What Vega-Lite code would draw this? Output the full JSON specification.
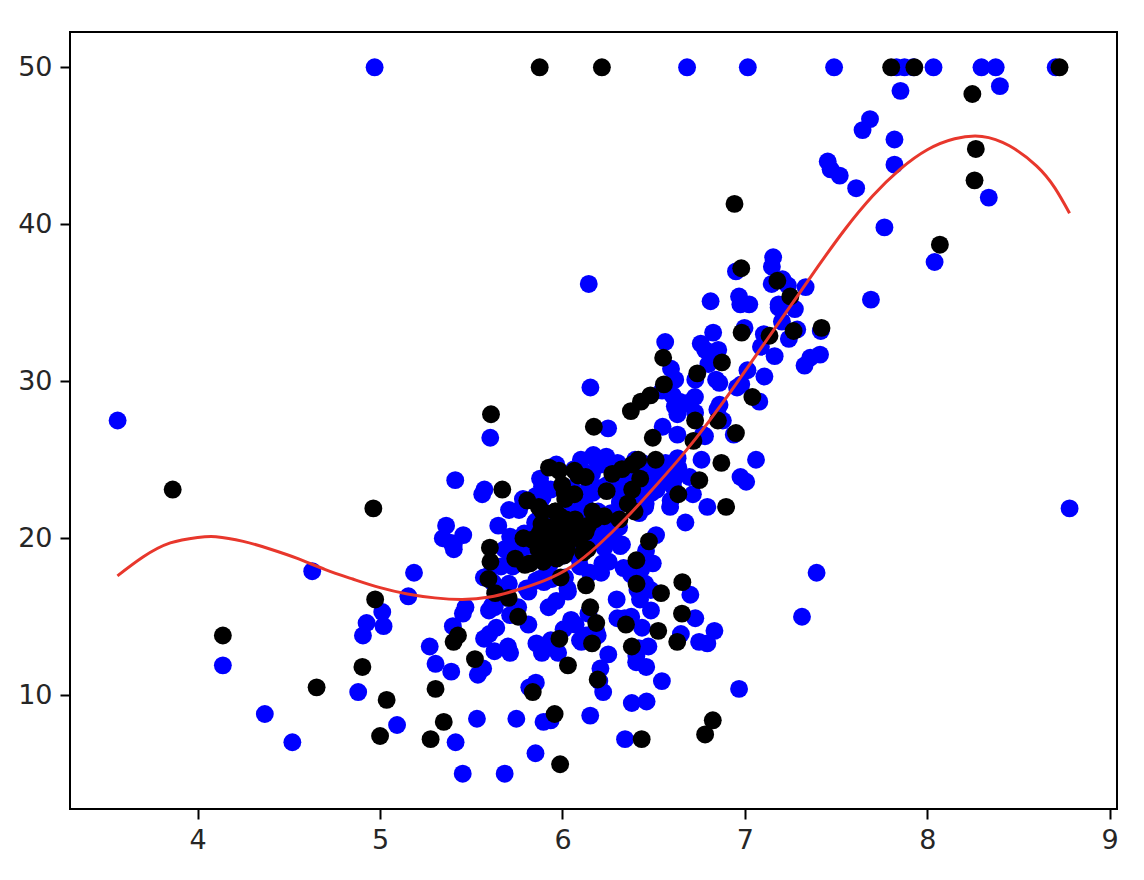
{
  "$schema": "https://vega.github.io/schema/vega-lite/v6.json",
  "width": 1047,
  "height": 777,
  "autosize": "none",
  "padding": {"left": 70, "top": 32, "right": 27, "bottom": 71},
  "background": "white",
  "config": {
    "view": {"stroke": "#000", "strokeWidth": 2},
    "axis": {"domain": false, "grid": false, "ticks": true, "tickColor": "#000", "tickWidth": 2, "tickSize": 10, "labelFont": "DejaVu Sans", "labelFontSize": 27, "labelColor": "#262626", "labelPadding": 8, "title": null}
  },
  "datasets": {
    "train": [
{"rm":6.575,"medv":24.0},{"rm":6.421,"medv":21.6},{"rm":7.185,"medv":34.7},{"rm":6.998,"medv":33.4},{"rm":7.147,"medv":36.2},{"rm":6.004,"medv":18.9},{"rm":6.377,"medv":15.0},{"rm":6.096,"medv":18.2},{"rm":5.935,"medv":23.1},{"rm":5.456,"medv":20.2},{"rm":5.727,"medv":18.2},{"rm":5.570,"medv":13.6},{"rm":5.965,"medv":19.6},{"rm":6.142,"medv":15.2},{"rm":5.813,"medv":14.5},{"rm":5.924,"medv":15.6},{"rm":5.599,"medv":13.9},{"rm":5.813,"medv":16.6},{"rm":6.047,"medv":14.8},{"rm":6.495,"medv":18.4},{"rm":6.674,"medv":21.0},{"rm":5.713,"medv":12.7},{"rm":6.072,"medv":14.5},{"rm":5.950,"medv":13.2},{"rm":5.701,"medv":13.1},{"rm":6.096,"medv":13.5},{"rm":5.933,"medv":18.9},{"rm":5.841,"medv":20.0},{"rm":5.850,"medv":21.0},{"rm":5.966,"medv":24.7},{"rm":6.595,"medv":30.8},{"rm":7.024,"medv":34.9},{"rm":6.770,"medv":26.6},{"rm":6.169,"medv":25.3},{"rm":6.211,"medv":24.7},{"rm":5.682,"medv":19.3},{"rm":6.030,"medv":16.6},{"rm":5.399,"medv":14.4},{"rm":6.115,"medv":20.5},{"rm":6.816,"medv":31.6},{"rm":6.145,"medv":23.3},{"rm":5.966,"medv":16.0},{"rm":6.456,"medv":22.2},{"rm":6.762,"medv":25.0},{"rm":7.104,"medv":33.0},{"rm":6.290,"medv":23.5},{"rm":5.787,"medv":19.4},{"rm":5.878,"medv":22.0},{"rm":6.417,"medv":24.2},{"rm":6.245,"medv":23.4},{"rm":6.286,"medv":21.4},{"rm":6.279,"medv":20.0},{"rm":6.232,"medv":21.2},{"rm":6.727,"medv":28.0},{"rm":6.619,"medv":23.9},{"rm":6.302,"medv":24.8},{"rm":6.167,"medv":22.9},{"rm":6.389,"medv":23.9},{"rm":6.630,"medv":26.6},{"rm":6.121,"medv":22.2},{"rm":7.007,"medv":23.6},{"rm":7.079,"medv":28.7},{"rm":6.417,"medv":22.6},{"rm":6.405,"medv":22.0},{"rm":6.442,"medv":22.9},{"rm":6.211,"medv":25.0},{"rm":6.249,"medv":20.6},{"rm":6.625,"medv":28.4},{"rm":6.163,"medv":21.4},{"rm":7.820,"medv":43.8},{"rm":7.416,"medv":33.2},{"rm":6.781,"medv":26.5},{"rm":6.167,"medv":20.1},{"rm":5.851,"medv":19.5},{"rm":5.836,"medv":19.5},{"rm":6.229,"medv":19.4},{"rm":6.195,"medv":21.7},{"rm":6.715,"medv":22.8},{"rm":5.913,"medv":18.8},{"rm":6.092,"medv":18.7},{"rm":6.254,"medv":18.5},{"rm":5.928,"medv":18.3},{"rm":5.872,"medv":20.4},{"rm":5.731,"medv":19.3},{"rm":5.856,"medv":17.3},{"rm":5.879,"medv":18.8},{"rm":5.613,"medv":15.7},{"rm":5.693,"medv":16.2},{"rm":6.431,"medv":18.0},{"rm":5.637,"medv":14.3},{"rm":6.458,"medv":19.2},{"rm":6.326,"medv":19.6},{"rm":6.372,"medv":23.0},{"rm":5.757,"medv":15.6},{"rm":6.335,"medv":18.1},{"rm":5.942,"medv":17.4},{"rm":6.454,"medv":17.1},{"rm":5.857,"medv":13.3},{"rm":6.151,"medv":17.8},{"rm":6.174,"medv":14.0},{"rm":5.019,"medv":14.4},{"rm":5.468,"medv":15.6},{"rm":6.130,"medv":13.8},{"rm":5.628,"medv":15.6},{"rm":4.926,"medv":14.6},{"rm":5.186,"medv":17.8},{"rm":5.597,"medv":15.4},{"rm":6.122,"medv":21.5},{"rm":5.404,"medv":19.6},{"rm":5.012,"medv":15.3},{"rm":5.709,"medv":19.4},{"rm":5.272,"medv":13.1},{"rm":6.510,"medv":23.3},{"rm":6.250,"medv":27.0},{"rm":7.489,"medv":50.0},{"rm":8.375,"medv":50.0},{"rm":5.854,"medv":22.7},{"rm":6.101,"medv":25.0},{"rm":5.877,"medv":23.8},{"rm":6.319,"medv":23.8},{"rm":6.402,"medv":22.3},{"rm":5.875,"medv":17.4},{"rm":5.880,"medv":19.1},{"rm":5.572,"medv":23.1},{"rm":6.416,"medv":23.6},{"rm":5.859,"medv":22.6},{"rm":6.546,"medv":29.4},{"rm":6.020,"medv":23.2},{"rm":6.315,"medv":24.6},{"rm":6.860,"medv":29.9},{"rm":7.765,"medv":39.8},{"rm":6.144,"medv":36.2},{"rm":7.155,"medv":37.9},{"rm":6.563,"medv":32.5},{"rm":5.604,"medv":26.4},{"rm":6.153,"medv":29.6},{"rm":7.831,"medv":50.0},{"rm":6.782,"medv":32.0},{"rm":7.185,"medv":34.9},{"rm":6.951,"medv":37.0},{"rm":6.800,"medv":31.1},{"rm":6.604,"medv":29.1},{"rm":7.875,"medv":50.0},{"rm":7.287,"medv":33.3},{"rm":7.107,"medv":30.3},{"rm":7.274,"medv":34.6},{"rm":6.975,"medv":34.9},{"rm":6.162,"medv":24.1},{"rm":7.610,"medv":42.3},{"rm":7.853,"medv":48.5},{"rm":8.034,"medv":50.0},{"rm":5.891,"medv":22.6},{"rm":5.783,"medv":22.5},{"rm":6.064,"medv":24.4},{"rm":5.344,"medv":20.0},{"rm":5.404,"medv":19.3},{"rm":5.412,"medv":23.7},{"rm":6.182,"medv":25.0},{"rm":5.888,"medv":23.3},{"rm":6.642,"medv":28.7},{"rm":5.951,"medv":21.5},{"rm":6.373,"medv":23.0},{"rm":6.879,"medv":27.5},{"rm":6.618,"medv":30.1},{"rm":8.040,"medv":37.6},{"rm":7.163,"medv":31.6},{"rm":7.686,"medv":46.7},{"rm":7.412,"medv":31.7},{"rm":8.337,"medv":41.7},{"rm":6.726,"medv":29.0},{"rm":6.631,"medv":25.1},{"rm":7.358,"medv":31.5},{"rm":6.481,"medv":23.7},{"rm":6.606,"medv":23.3},{"rm":6.393,"medv":23.7},{"rm":5.593,"medv":17.6},{"rm":6.108,"medv":24.3},{"rm":6.226,"medv":20.5},{"rm":6.433,"medv":24.5},{"rm":6.487,"medv":24.4},{"rm":6.438,"medv":24.8},{"rm":6.957,"medv":29.6},{"rm":6.108,"medv":21.9},{"rm":5.876,"medv":20.9},{"rm":7.454,"medv":44.0},{"rm":8.704,"medv":50.0},{"rm":7.333,"medv":36.0},{"rm":6.842,"medv":30.1},{"rm":7.203,"medv":33.8},{"rm":7.520,"medv":43.1},{"rm":8.398,"medv":48.8},{"rm":7.327,"medv":31.0},{"rm":7.206,"medv":36.5},{"rm":5.560,"medv":22.8},{"rm":7.014,"medv":30.7},{"rm":8.297,"medv":50.0},{"rm":7.470,"medv":43.5},{"rm":5.856,"medv":21.1},{"rm":6.240,"medv":25.2},{"rm":6.538,"medv":24.4},{"rm":7.691,"medv":35.2},{"rm":6.758,"medv":32.4},{"rm":6.854,"medv":32.0},{"rm":6.826,"medv":33.1},{"rm":6.812,"medv":35.1},{"rm":7.820,"medv":45.4},{"rm":6.968,"medv":35.4},{"rm":7.645,"medv":46.0},{"rm":7.923,"medv":50.0},{"rm":7.088,"medv":32.2},{"rm":6.453,"medv":22.0},{"rm":6.230,"medv":20.1},{"rm":6.209,"medv":23.2},{"rm":6.315,"medv":22.3},{"rm":6.565,"medv":24.8},{"rm":6.861,"medv":28.5},{"rm":7.148,"medv":37.3},{"rm":6.630,"medv":27.9},{"rm":6.009,"medv":21.7},{"rm":6.678,"medv":28.6},{"rm":6.549,"medv":27.1},{"rm":5.790,"medv":20.3},{"rm":6.345,"medv":22.5},{"rm":6.590,"medv":22.0},{"rm":7.236,"medv":36.1},{"rm":6.616,"medv":28.4},{"rm":6.849,"medv":28.2},{"rm":6.122,"medv":22.1},{"rm":6.266,"medv":21.6},{"rm":6.567,"medv":23.8},{"rm":5.914,"medv":17.8},{"rm":5.782,"medv":19.8},{"rm":6.113,"medv":21.0},{"rm":6.376,"medv":23.1},{"rm":5.708,"medv":18.5},{"rm":6.431,"medv":24.6},{"rm":6.312,"medv":23.0},{"rm":6.083,"medv":22.2},{"rm":6.333,"medv":22.6},{"rm":6.144,"medv":19.8},{"rm":5.706,"medv":17.1},{"rm":6.031,"medv":19.4},{"rm":6.316,"medv":22.2},{"rm":6.310,"medv":20.7},{"rm":5.869,"medv":19.5},{"rm":5.985,"medv":19.0},{"rm":7.241,"medv":32.7},{"rm":6.696,"medv":23.9},{"rm":6.014,"medv":17.5},{"rm":5.898,"medv":17.2},{"rm":6.516,"medv":23.1},{"rm":6.635,"medv":24.5},{"rm":6.939,"medv":26.6},{"rm":6.490,"medv":22.9},{"rm":6.579,"medv":24.1},{"rm":5.884,"medv":18.6},{"rm":6.728,"medv":30.1},{"rm":5.663,"medv":18.2},{"rm":6.212,"medv":17.8},{"rm":6.127,"medv":22.7},{"rm":6.112,"medv":22.6},{"rm":6.398,"medv":25.0},{"rm":6.251,"medv":19.9},{"rm":5.362,"medv":20.8},{"rm":5.803,"medv":16.8},{"rm":8.780,"medv":21.9},{"rm":3.561,"medv":27.5},{"rm":4.970,"medv":50.0},{"rm":6.683,"medv":50.0},{"rm":7.016,"medv":50.0},{"rm":4.906,"medv":13.8},{"rm":7.313,"medv":15.0},{"rm":6.649,"medv":13.9},{"rm":6.794,"medv":13.3},{"rm":6.223,"medv":10.2},{"rm":6.968,"medv":10.4},{"rm":6.545,"medv":10.9},{"rm":5.536,"medv":11.3},{"rm":4.368,"medv":8.8},{"rm":4.880,"medv":10.2},{"rm":5.390,"medv":11.5},{"rm":5.713,"medv":15.1},{"rm":6.051,"medv":23.2},{"rm":6.193,"medv":13.8},{"rm":5.887,"medv":12.7},{"rm":6.471,"medv":13.1},{"rm":6.405,"medv":12.5},{"rm":5.747,"medv":8.5},{"rm":5.453,"medv":5.0},{"rm":5.852,"medv":6.3},{"rm":6.343,"medv":7.2},{"rm":6.404,"medv":12.1},{"rm":5.531,"medv":8.5},{"rm":5.683,"medv":5.0},{"rm":4.138,"medv":11.9},{"rm":5.617,"medv":17.2},{"rm":4.628,"medv":17.9},{"rm":5.155,"medv":16.3},{"rm":4.519,"medv":7.0},{"rm":6.411,"medv":16.7},{"rm":6.006,"medv":14.2},{"rm":5.648,"medv":20.8},{"rm":6.103,"medv":13.4},{"rm":5.565,"medv":11.7},{"rm":5.896,"medv":8.3},{"rm":6.202,"medv":10.9},{"rm":6.380,"medv":9.5},{"rm":6.833,"medv":14.1},{"rm":6.425,"medv":16.1},{"rm":6.436,"medv":14.3},{"rm":6.208,"medv":11.7},{"rm":6.461,"medv":9.6},{"rm":6.152,"medv":8.7},{"rm":5.935,"medv":8.4},{"rm":5.627,"medv":12.8},{"rm":5.818,"medv":10.5},{"rm":6.219,"medv":18.4},{"rm":6.485,"medv":15.4},{"rm":5.854,"medv":10.8},{"rm":6.459,"medv":11.8},{"rm":6.341,"medv":14.9},{"rm":6.251,"medv":12.6},{"rm":6.185,"medv":14.1},{"rm":6.417,"medv":13.0},{"rm":6.749,"medv":13.4},{"rm":6.297,"medv":16.1},{"rm":7.393,"medv":17.8},{"rm":6.728,"medv":14.9},{"rm":5.976,"medv":12.7},{"rm":5.936,"medv":13.5},{"rm":6.301,"medv":14.9},{"rm":6.701,"medv":16.4},{"rm":6.376,"medv":17.7},{"rm":6.317,"medv":19.5},{"rm":6.513,"medv":20.2},{"rm":6.209,"medv":21.4},{"rm":5.759,"medv":19.9},{"rm":5.952,"medv":19.0},{"rm":5.926,"medv":19.1},{"rm":5.713,"medv":20.1},{"rm":6.167,"medv":19.9},{"rm":6.229,"medv":19.6},{"rm":6.437,"medv":23.2},{"rm":6.980,"medv":29.8},{"rm":6.484,"medv":16.7},{"rm":5.304,"medv":12.0},{"rm":7.061,"medv":25.0},{"rm":5.762,"medv":21.8},{"rm":5.871,"medv":20.6},{"rm":5.454,"medv":15.2},{"rm":5.414,"medv":7.0},{"rm":5.093,"medv":8.1},{"rm":5.983,"medv":20.1},{"rm":5.707,"medv":21.8},{"rm":5.390,"medv":19.7},{"rm":5.569,"medv":17.5},{"rm":6.027,"medv":16.8},{"rm":6.593,"medv":22.4},{"rm":6.120,"medv":20.6},{"rm":6.976,"medv":23.9},{"rm":6.794,"medv":22.0}
    ],
    "test": [
{"rm":6.430,"medv":28.7},{"rm":6.172,"medv":27.1},{"rm":5.631,"medv":16.5},{"rm":5.889,"medv":21.7},{"rm":5.949,"medv":20.4},{"rm":5.834,"medv":19.9},{"rm":5.990,"medv":17.5},{"rm":5.786,"medv":20.0},{"rm":5.602,"medv":19.4},{"rm":6.511,"medv":25.0},{"rm":5.998,"medv":23.4},{"rm":5.888,"medv":18.9},{"rm":7.249,"medv":35.4},{"rm":6.383,"medv":24.7},{"rm":5.741,"medv":18.7},{"rm":5.594,"medv":17.4},{"rm":5.885,"medv":20.9},{"rm":6.273,"medv":24.1},{"rm":5.874,"medv":20.3},{"rm":8.069,"medv":38.7},{"rm":6.727,"medv":27.5},{"rm":6.405,"medv":18.6},{"rm":6.474,"medv":19.8},{"rm":6.021,"medv":19.2},{"rm":5.870,"medv":22.0},{"rm":5.986,"medv":21.4},{"rm":5.822,"medv":18.4},{"rm":5.403,"medv":13.4},{"rm":4.903,"medv":11.8},{"rm":6.129,"medv":17.0},{"rm":6.152,"medv":15.6},{"rm":6.943,"medv":41.3},{"rm":6.066,"medv":24.3},{"rm":7.802,"medv":50.0},{"rm":7.929,"medv":50.0},{"rm":6.980,"medv":37.2},{"rm":6.556,"medv":29.8},{"rm":6.739,"medv":30.5},{"rm":7.178,"medv":36.4},{"rm":7.135,"medv":32.9},{"rm":6.326,"medv":24.4},{"rm":5.960,"medv":21.7},{"rm":5.807,"medv":22.4},{"rm":6.375,"medv":28.1},{"rm":6.951,"medv":26.7},{"rm":8.266,"medv":44.8},{"rm":8.725,"medv":50.0},{"rm":6.552,"medv":31.5},{"rm":5.981,"medv":24.3},{"rm":8.247,"medv":48.3},{"rm":6.086,"medv":24.0},{"rm":6.897,"medv":22.0},{"rm":6.358,"medv":22.2},{"rm":5.605,"medv":18.5},{"rm":6.718,"medv":26.2},{"rm":8.259,"medv":42.8},{"rm":5.920,"medv":20.7},{"rm":7.267,"medv":33.2},{"rm":6.482,"medv":29.1},{"rm":6.127,"medv":23.9},{"rm":7.041,"medv":29.0},{"rm":6.871,"medv":24.8},{"rm":6.495,"medv":26.4},{"rm":6.982,"medv":33.1},{"rm":7.420,"medv":33.4},{"rm":6.635,"medv":22.8},{"rm":4.973,"medv":16.1},{"rm":5.705,"medv":16.2},{"rm":6.382,"medv":23.1},{"rm":6.426,"medv":23.8},{"rm":6.415,"medv":25.0},{"rm":5.868,"medv":19.3},{"rm":5.895,"medv":18.5},{"rm":5.968,"medv":18.7},{"rm":6.540,"medv":16.5},{"rm":6.874,"medv":31.2},{"rm":5.936,"medv":20.6},{"rm":6.395,"medv":21.7},{"rm":4.963,"medv":21.9},{"rm":3.863,"medv":23.1},{"rm":6.216,"medv":50.0},{"rm":5.875,"medv":50.0},{"rm":4.138,"medv":13.8},{"rm":6.380,"medv":13.1},{"rm":5.520,"medv":12.3},{"rm":5.277,"medv":7.2},{"rm":4.652,"medv":10.5},{"rm":5.000,"medv":7.4},{"rm":5.036,"medv":9.7},{"rm":5.987,"medv":5.6},{"rm":5.349,"medv":8.3},{"rm":5.608,"medv":27.9},{"rm":6.852,"medv":27.5},{"rm":5.757,"medv":15.0},{"rm":6.657,"medv":17.2},{"rm":6.434,"medv":7.2},{"rm":6.782,"medv":7.5},{"rm":5.304,"medv":10.4},{"rm":5.957,"medv":8.8},{"rm":6.824,"medv":8.4},{"rm":5.837,"medv":10.2},{"rm":6.193,"medv":11.0},{"rm":6.348,"medv":14.5},{"rm":6.629,"medv":13.4},{"rm":6.406,"medv":17.1},{"rm":6.655,"medv":15.2},{"rm":6.525,"medv":14.1},{"rm":6.003,"medv":19.1},{"rm":5.427,"medv":13.8},{"rm":6.162,"medv":13.3},{"rm":6.185,"medv":14.6},{"rm":6.229,"medv":21.4},{"rm":6.242,"medv":23.0},{"rm":6.750,"medv":23.7},{"rm":6.312,"medv":21.2},{"rm":6.114,"medv":19.1},{"rm":5.905,"medv":20.6},{"rm":5.983,"medv":13.6},{"rm":5.926,"medv":24.5},{"rm":5.670,"medv":23.1},{"rm":5.794,"medv":18.3},{"rm":6.030,"medv":11.9},
{"rm":6.004,"medv":20.3},{"rm":5.961,"medv":20.5},{"rm":5.961,"medv":21.7},{"rm":6.065,"medv":22.8},{"rm":6.015,"medv":22.5},{"rm":6.137,"medv":19.3},{"rm":6.127,"medv":20.4},{"rm":6.176,"medv":21.2},{"rm":6.069,"medv":21.2},{"rm":6.140,"medv":20.8},{"rm":6.164,"medv":21.7},{"rm":6.095,"medv":20.1},{"rm":6.041,"medv":20.4},{"rm":6.037,"medv":21.1},{"rm":6.059,"medv":20.6},{"rm":6.023,"medv":19.4},{"rm":6.019,"medv":21.2},{"rm":6.081,"medv":20.0},{"rm":5.972,"medv":20.3},{"rm":5.927,"medv":19.6},{"rm":5.963,"medv":19.7},{"rm":6.012,"medv":22.9},{"rm":6.009,"medv":18.9}
    ],
    "fit": [
{"rm":3.56,"medv":17.6},{"rm":3.7,"medv":18.8},{"rm":3.85,"medv":19.7},{"rm":4.0,"medv":20.05},{"rm":4.1,"medv":20.1},{"rm":4.25,"medv":19.8},{"rm":4.4,"medv":19.3},{"rm":4.55,"medv":18.7},{"rm":4.7,"medv":18.0},{"rm":4.85,"medv":17.4},{"rm":5.0,"medv":16.85},{"rm":5.15,"medv":16.45},{"rm":5.3,"medv":16.2},{"rm":5.45,"medv":16.1},{"rm":5.6,"medv":16.25},{"rm":5.75,"medv":16.7},{"rm":5.9,"medv":17.3},{"rm":6.05,"medv":18.2},{"rm":6.2,"medv":19.6},{"rm":6.35,"medv":21.3},{"rm":6.5,"medv":23.2},{"rm":6.65,"medv":25.2},{"rm":6.8,"medv":27.4},{"rm":6.95,"medv":29.8},{"rm":7.1,"medv":32.3},{"rm":7.25,"medv":34.8},{"rm":7.4,"medv":37.3},{"rm":7.55,"medv":39.7},{"rm":7.7,"medv":41.8},{"rm":7.85,"medv":43.5},{"rm":8.0,"medv":44.75},{"rm":8.15,"medv":45.45},{"rm":8.3,"medv":45.6},{"rm":8.45,"medv":45.0},{"rm":8.6,"medv":43.7},{"rm":8.7,"medv":42.3},{"rm":8.78,"medv":40.7}
    ]
  },
  "encoding": {
    "x": {"field": "rm", "type": "quantitative", "scale": {"domain": [3.3, 9.04], "nice": false, "zero": false}, "axis": {"values": [4, 5, 6, 7, 8, 9]}},
    "y": {"field": "medv", "type": "quantitative", "scale": {"domain": [2.75, 52.25], "nice": false, "zero": false}, "axis": {"values": [10, 20, 30, 40, 50]}}
  },
  "layer": [
    {"data": {"name": "train"}, "mark": {"type": "circle", "color": "#0000ff", "opacity": 1, "size": 320}},
    {"data": {"name": "test"}, "mark": {"type": "circle", "color": "#000000", "opacity": 1, "size": 320}},
    {"data": {"name": "fit"}, "mark": {"type": "line", "color": "#e8372c", "strokeWidth": 3, "interpolate": "natural"}}
  ]
}
